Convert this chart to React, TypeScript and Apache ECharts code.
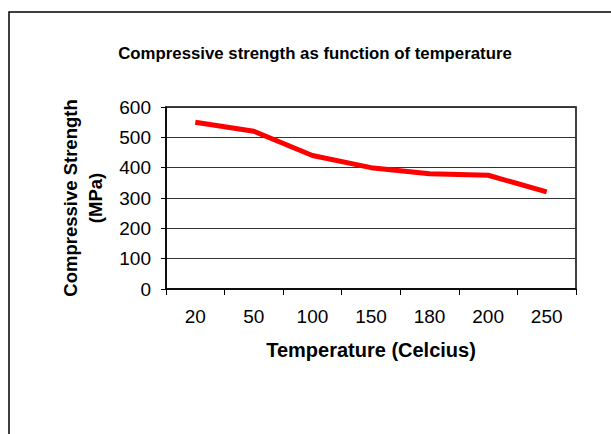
import React, { useEffect, useRef } from "react";
import * as echarts from "echarts";

const categories = ["20", "50", "100", "150", "180", "200", "250"];
const strength = [550, 520, 440, 400, 380, 375, 320];
const yTicks = { min: 0, max: 600, interval: 100 };

export default function App() {
  const ref = useRef<HTMLDivElement>(null);
  useEffect(() => {
    if (!ref.current) return;
    const chart = echarts.init(ref.current, null, { renderer: "svg" });
    const font = "Liberation Sans, Arial, sans-serif";
    chart.setOption({
      animation: false,
      backgroundColor: "#fff",
      graphic: [
        {
          type: "rect",
          shape: { x: 9, y: 12, width: 700, height: 500 },
          style: { fill: "none", stroke: "#000", lineWidth: 1.5 },
          silent: true,
        },
      ],
      title: {
        text: "Compressive strength as function of temperature",
        left: 310,
        textAlign: "center",
        top: 40,
        textStyle: { fontFamily: font, fontSize: 16.8, fontWeight: "bold", color: "#000" },
      },
      grid: { left: 166, top: 107, width: 410, height: 182, show: true, borderColor: "#000", borderWidth: 1.5 },
      xAxis: {
        type: "category",
        data: categories,
        boundaryGap: true,
        name: "Temperature (Celcius)",
        nameLocation: "middle",
        nameGap: 51,
        nameTextStyle: { fontFamily: font, fontSize: 20, fontWeight: "bold", color: "#000" },
        axisLine: { lineStyle: { color: "#000", width: 1.5 } },
        axisTick: { show: true, length: 6, lineStyle: { color: "#000" }, alignWithLabel: false },
        axisLabel: { fontFamily: font, fontSize: 19, color: "#000", margin: 18 },
      },
      yAxis: {
        type: "value",
        min: yTicks.min,
        max: yTicks.max,
        interval: yTicks.interval,
        name: "Compressive Strength\n(MPa)",
        nameLocation: "middle",
        nameGap: 56,
        nameRotate: 90,
        nameTextStyle: { fontFamily: font, fontSize: 18.5, fontWeight: "bold", color: "#000", lineHeight: 25 },
        axisLine: { show: true, lineStyle: { color: "#000", width: 1.5 } },
        axisTick: { show: true, length: 5, lineStyle: { color: "#000" } },
        axisLabel: { fontFamily: font, fontSize: 19, color: "#000", margin: 15 },
        splitLine: { show: true, lineStyle: { color: "#333", width: 1 } },
      },
      series: [
        {
          type: "line",
          data: strength,
          symbol: "none",
          lineStyle: { color: "#ff0000", width: 5 },
        },
      ],
    });
    return () => chart.dispose();
  }, []);
  return <div ref={ref} style={{ width: 611, height: 434, position: "absolute", left: 0, top: 0 }} />;
}
